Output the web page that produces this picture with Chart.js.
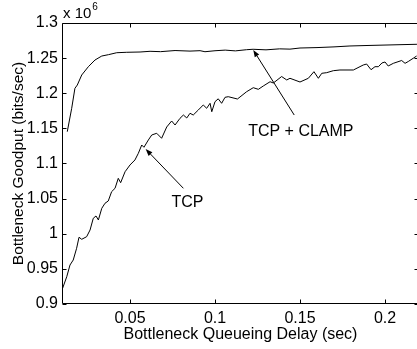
<!DOCTYPE html>
<html>
<head>
<meta charset="utf-8">
<script src="https://cdn.jsdelivr.net/npm/chart.js@4/dist/chart.umd.min.js"></script>
<style>
    html, body { margin: 0; padding: 0; background: #fff; overflow: hidden; }
    #wrap { width: 420px; height: 349px; }
</style>
</head>
<body>
<div id="wrap"><canvas id="chart" width="420" height="349"></canvas></div>
<script>
    var xTicks = [0.05, 0.1, 0.15, 0.2];
    var yTicks = [0.9, 0.95, 1, 1.05, 1.1, 1.15, 1.2, 1.25, 1.3];

    // TCP + CLAMP
    var clampX = [0.0131, 0.0157, 0.0176, 0.0190, 0.0216, 0.0255, 0.0294, 0.0334, 0.0373, 0.0422, 0.0481,
        0.0559, 0.0618, 0.0680, 0.0765, 0.0853, 0.0912, 0.0941, 0.1000, 0.1060, 0.1120, 0.1186, 0.1224,
        0.1300, 0.1380, 0.1441, 0.1500, 0.1600, 0.1700, 0.1794, 0.1900, 0.2000, 0.2100, 0.2188];
    var clampY = [1.1453, 1.1786, 1.2070, 1.2117, 1.2260, 1.2378, 1.2473, 1.2530, 1.2549, 1.2577, 1.2583,
        1.2587, 1.2597, 1.2592, 1.2608, 1.2600, 1.2606, 1.2591, 1.2605, 1.2614, 1.2603, 1.2620, 1.2626,
        1.2618, 1.2632, 1.2628, 1.2644, 1.2650, 1.2660, 1.2673, 1.2680, 1.2686, 1.2692, 1.2697];

    // TCP
    var tcpX = [0.0100, 0.0128, 0.0147, 0.0166, 0.0186, 0.0200, 0.0216, 0.0245, 0.0265, 0.0284, 0.0300,
        0.0314, 0.0334, 0.0353, 0.0372, 0.0392, 0.0412, 0.0431, 0.0445, 0.0471, 0.0500, 0.0529, 0.0549,
        0.0569, 0.0582, 0.0608, 0.0628, 0.0657, 0.0686, 0.0716, 0.0745, 0.0765, 0.0794, 0.0814, 0.0834,
        0.0853, 0.0872, 0.0902, 0.0931, 0.0951, 0.0971, 0.0981, 0.1000, 0.1019, 0.1039, 0.1059, 0.1078,
        0.1132, 0.1186, 0.1225, 0.1255, 0.1284, 0.1324, 0.1343, 0.1353, 0.1392, 0.1422, 0.1441, 0.1500,
        0.1549, 0.1582, 0.1608, 0.1628, 0.1657, 0.1696, 0.1735, 0.1814, 0.1872, 0.1892, 0.1918, 0.1941,
        0.1961, 0.1982, 0.2000, 0.2019, 0.2049, 0.2098, 0.2118, 0.2137, 0.2166, 0.2186];
    var tcpY = [0.9200, 0.9389, 0.9555, 0.9626, 0.9793, 0.9950, 0.9921, 0.9958, 1.0053, 1.0220, 1.0253,
        1.0196, 1.0362, 1.0434, 1.0466, 1.0599, 1.0647, 1.0789, 1.0727, 1.0883, 1.0979, 1.1050, 1.1145,
        1.1263, 1.1231, 1.1335, 1.1406, 1.1430, 1.1359, 1.1520, 1.1605, 1.1548, 1.1643, 1.1690, 1.1648,
        1.1715, 1.1690, 1.1762, 1.1833, 1.1786, 1.1857, 1.1737, 1.1880, 1.1921, 1.1857, 1.1942, 1.1951,
        1.1918, 1.2022, 1.2079, 1.2056, 1.2103, 1.2164, 1.2146, 1.2164, 1.2238, 1.2189, 1.2213, 1.2160,
        1.2213, 1.2307, 1.2213, 1.2284, 1.2293, 1.2321, 1.2331, 1.2331, 1.2402, 1.2416, 1.2335, 1.2378,
        1.2378, 1.2431, 1.2445, 1.2388, 1.2426, 1.2466, 1.2426, 1.2452, 1.2498, 1.2530];

    var labels = [
        { text: 'TCP + CLAMP', x: 0.1505, y: 1.1450, fromX: 0.1466, fromY: 1.169, toX: 0.1225, toY: 1.2616 },
        { text: 'TCP', x: 0.0838, y: 1.0443, fromX: 0.0814, fromY: 1.0647, toX: 0.0592, toY: 1.1206 }
    ];

    var fontName = '"Liberation Sans", Arial, Helvetica, sans-serif';

    var toPoints = function (xs, ys) {
        var pts = [];
        for (var i = 0; i < xs.length; i++) {
            pts.push({ x: xs[i], y: ys[i] });
        }
        return pts;
    };

    var frameAndNotes = {
        id: 'frameAndNotes',
        afterDraw: function (chart) {
            var ctx = chart.ctx;
            var a = chart.chartArea;
            var sx = chart.scales.x;
            var sy = chart.scales.y;
            var l = Math.round(a.left) + 0.5, r = Math.round(a.right) - 0.5;
            var t = Math.round(a.top) + 0.5, b = Math.round(a.bottom) - 0.5;
            ctx.save();
            ctx.strokeStyle = '#000';
            ctx.lineWidth = 1;
            ctx.beginPath();
            ctx.rect(l, t, r - l, b - t);
            xTicks.forEach(function (v) {
                var px = Math.round(sx.getPixelForValue(v)) + 0.5;
                ctx.moveTo(px, b); ctx.lineTo(px, b - 4);
                ctx.moveTo(px, t); ctx.lineTo(px, t + 4);
            });
            yTicks.forEach(function (v) {
                var py = Math.round(sy.getPixelForValue(v)) + 0.5;
                ctx.moveTo(l, py); ctx.lineTo(l + 4, py);
                ctx.moveTo(r, py); ctx.lineTo(r - 4, py);
            });
            ctx.stroke();

            // exponent
            ctx.fillStyle = '#000';
            ctx.textBaseline = 'alphabetic';
            ctx.textAlign = 'left';
            ctx.font = '15px ' + fontName;
            ctx.fillText('x 10', a.left + 1, 18);
            var w = ctx.measureText('x 10').width;
            ctx.font = '10px ' + fontName;
            ctx.fillText('6', a.left + 2 + w, 10);

            // labels and arrows
            labels.forEach(function (n) {
                ctx.font = '16px ' + fontName;
                ctx.textAlign = 'center';
                ctx.textBaseline = 'middle';
                ctx.fillText(n.text, sx.getPixelForValue(n.x), sy.getPixelForValue(n.y));
                var x0 = sx.getPixelForValue(n.fromX), y0 = sy.getPixelForValue(n.fromY);
                var x1 = sx.getPixelForValue(n.toX), y1 = sy.getPixelForValue(n.toY);
                var ang = Math.atan2(y1 - y0, x1 - x0);
                var hl = 7, hw = 2.6;
                var bx = x1 - hl * Math.cos(ang), by = y1 - hl * Math.sin(ang);
                ctx.beginPath();
                ctx.moveTo(x0, y0);
                ctx.lineTo(bx, by);
                ctx.stroke();
                ctx.beginPath();
                ctx.moveTo(x1, y1);
                ctx.lineTo(bx + hw * Math.sin(ang), by - hw * Math.cos(ang));
                ctx.lineTo(bx - hw * Math.sin(ang), by + hw * Math.cos(ang));
                ctx.closePath();
                ctx.fill();
            });
            ctx.restore();
        }
    };

    new Chart(document.getElementById('chart'), {
        type: 'line',
        data: {
            datasets: [
                { label: 'TCP + CLAMP', data: toPoints(clampX, clampY), borderColor: '#000', borderWidth: 1, pointRadius: 0, tension: 0 },
                { label: 'TCP', data: toPoints(tcpX, tcpY), borderColor: '#000', borderWidth: 1, pointRadius: 0, tension: 0 }
            ]
        },
        options: {
            responsive: false,
            animation: false,
            events: [],
            layout: { padding: { top: 23, right: 1, left: 0, bottom: 0 } },
            plugins: { legend: { display: false }, tooltip: { enabled: false } },
            scales: {
                x: {
                    type: 'linear',
                    min: 0.01,
                    max: 0.22,
                    afterBuildTicks: function (s) { s.ticks = xTicks.map(function (v) { return { value: v }; }); },
                    afterFit: function (s) { s.height = 45; },
                    grid: { display: false, drawTicks: false },
                    border: { display: false },
                    ticks: {
                        color: '#000', padding: 5, maxRotation: 0, autoSkip: false,
                        font: { family: fontName, size: 16 },
                        callback: function (v) { return String(Number(v.toFixed(2))); }
                    },
                    title: {
                        display: true, text: 'Bottleneck Queueing Delay (sec)', color: '#000',
                        font: { family: fontName, size: 16 }, padding: { top: 0, bottom: 5 }
                    }
                },
                y: {
                    min: 0.9,
                    max: 1.3,
                    afterBuildTicks: function (s) { s.ticks = yTicks.map(function (v) { return { value: v }; }); },
                    afterFit: function (s) { s.width = 62; },
                    grid: { display: false, drawTicks: false },
                    border: { display: false },
                    ticks: {
                        color: '#000', padding: 4, autoSkip: false,
                        font: { family: fontName, size: 16 },
                        callback: function (v) { return String(Number(v.toFixed(2))); }
                    },
                    title: {
                        display: true, text: 'Bottleneck Goodput (bits/sec)', color: '#000',
                        font: { family: fontName, size: 15.5 }, padding: { top: 9, bottom: 0 }
                    }
                }
            }
        },
        plugins: [frameAndNotes]
    });
</script>
</body>
</html>
